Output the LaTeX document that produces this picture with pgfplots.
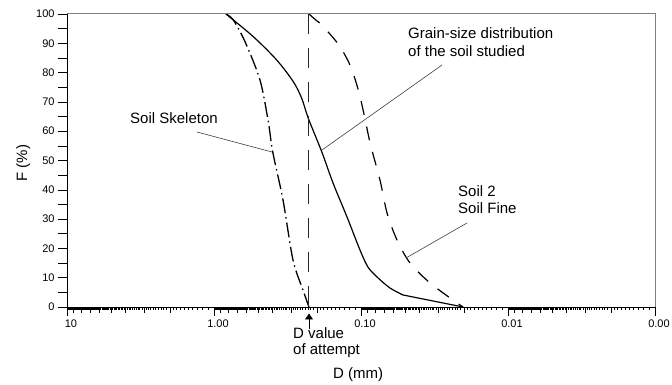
\documentclass[border=0pt]{standalone}
\usepackage{fontspec}
\setmainfont{Liberation Sans}
\usepackage{pgfplots}
\pgfplotsset{compat=1.18}
\usetikzlibrary{arrows.meta}

\def\finelist{10}
\foreach \ee in {-3,-2,-1,0}{\foreach \ii in {1,...,9}{\foreach \jj in {1,...,9}{\xdef\finelist{\finelist,\ii.\jj e\ee}}}}
\def\intlist{10}
\foreach \ee in {-3,-2,-1,0}{\foreach \ii in {2,...,9}{\xdef\intlist{\intlist,\ii e\ee}}}

\begin{document}
\begin{tikzpicture}
\path[use as bounding box] (0,0) rectangle (672pt,385pt);
\begin{axis}[
  at={(67pt,78pt)}, anchor=south west, scale only axis,
  width=588pt, height=293pt,
  xmode=log, x dir=reverse, xmin=0.001, xmax=10, ymin=0, ymax=100,
  axis lines=left, axis line style={-, line width=0.8pt, black},
  clip=false,
  tick align=outside,
  xtick={0.001,0.01,0.1,1,10}, xticklabels={0.00,0.01,0.10,1.00,10},
  minor xtick/.expanded={\intlist},
  extra x ticks/.expanded={\finelist},
  extra x tick labels={},
  extra x tick style={major tick length=3pt},
  major tick length=9pt, minor tick length=6pt,
  ytick={0,10,...,100},
  extra y ticks={5,15,...,95}, extra y tick labels={},
  every tick/.style={black, line width=0.5pt},
  tick label style={font=\fontsize{11}{13}\selectfont},
  x tick label style={xshift=4pt},
  /pgf/number format/assume math mode=true,
]
% Soil skeleton (dash-dot)
\addplot[black, line width=1.3pt, smooth, dash pattern=on 15pt off 4pt on 1.5pt off 4pt] coordinates {
(0.829,100) (0.739,97.95) (0.6152,90.55) (0.4866,77.47) (0.4272,63.24) (0.3988,53.00)
(0.3393,36.52) (0.2902,16.04) (0.2481,5.80) (0.226,0)};
% Grain-size distribution of the soil studied (solid)
\addplot[black, line width=1.2pt, smooth] coordinates {
(0.829,100) (0.540,92.25) (0.3746,84.30) (0.2887,76.89) (0.2531,71.23)
(0.2283,64.40) (0.185,53.00) (0.155,42.32) (0.1245,30.72) (0.1016,19.45)
(0.0897,13.65) (0.0778,10.24) (0.0635,6.48) (0.0518,4.10)};
\addplot[black, line width=1.2pt] coordinates {(0.0518,4.10) (0.0202,0)};
% Soil 2 / Soil fine (dashed)
\addplot[black, line width=1.2pt, smooth, dash pattern=on 14pt off 12pt] coordinates {
(0.226,100) (0.2001,97.68) (0.185,96.25) (0.1427,89.69) (0.1188,82.59) (0.1043,74.06)
(0.0951,65.53) (0.0864,55.63) (0.0743,43.34) (0.0665,32.08) (0.0569,22.87)
(0.0464,15.02) (0.0339,8.19) (0.0222,1.37) (0.0202,0)};
% D value of attempt (vertical dashed)
\addplot[black!85, line width=1pt, dash pattern=on 20pt off 14pt] coordinates {(0.226,100) (0.226,0)};
\draw[gray, line width=1pt] (rel axis cs:0,1) -- (rel axis cs:1,1) -- (rel axis cs:1,0);
\end{axis}
\begin{scope}[x=1pt, y=-1pt, yshift=385pt]
\tikzset{lbl/.style={anchor=base west, inner sep=0pt, font=\fontsize{15}{18}\selectfont}}
\node[lbl] at (130,124) {Soil Skeleton};
\draw[black!75, line width=0.6pt] (197,132) -- (272,152);
\node[lbl] at (408,39) {Grain-size distribution};
\node[lbl] at (408,57) {of the soil studied};
\draw[black!75, line width=0.6pt] (442,65) -- (322,150);
\node[lbl] at (458,197) {Soil 2};
\node[lbl] at (458,214) {Soil Fine};
\draw[black!75, line width=0.6pt] (467,223) -- (406,258);
\node[lbl] at (293,339) {D value};
\node[lbl] at (293,355) {of attempt};
\draw[black, line width=0.6pt, -{Triangle[width=8pt,length=6pt]}] (309,329) -- (309,313.5);
\node[lbl] at (333,379) {D (mm)};
\node[anchor=base, inner sep=0pt, rotate=90, font=\fontsize{15}{18}\selectfont] at (27,163) {F (\%)};
\end{scope}
\end{tikzpicture}
\end{document}
